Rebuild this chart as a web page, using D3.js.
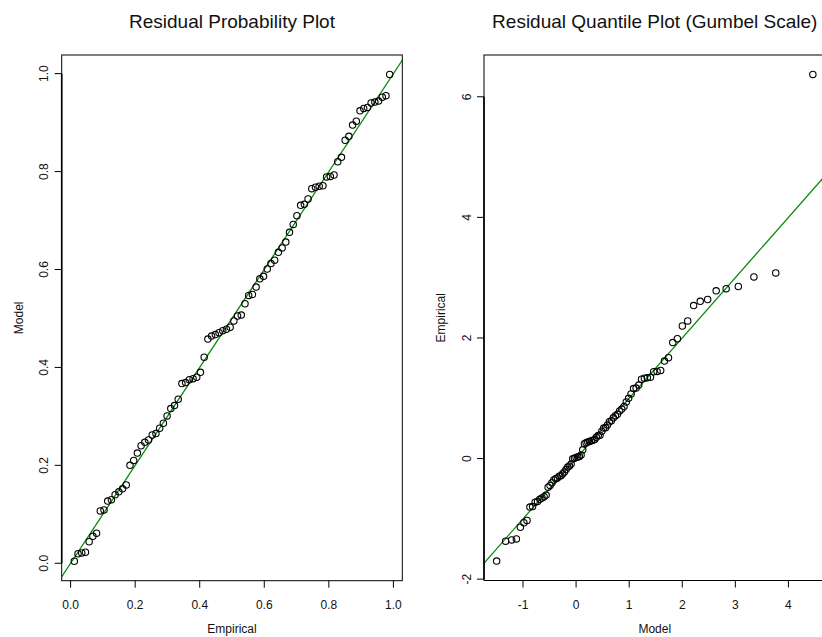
<!DOCTYPE html>
<html>
<head>
<meta charset="utf-8">
<script src="https://d3js.org/d3.v7.min.js"></script>
<style>
  body { margin: 0; background: #fff; }
  svg { display: block; font-family: "Liberation Sans", Arial, sans-serif; }
</style>
</head>
<body>
<svg width="822" height="637"></svg>
<script>
// model probabilities of the sorted residuals (tails from the right one)
var modelProb = [0.0042, 0.0195, 0.0212, 0.0225, 0.044, 0.055, 0.0615, 0.107, 0.109, 0.127,
  0.130, 0.140, 0.146, 0.152, 0.160, 0.200, 0.210, 0.225, 0.240, 0.247,
  0.252, 0.262, 0.265, 0.276, 0.286, 0.301, 0.316, 0.322, 0.335, 0.367,
  0.369, 0.375, 0.377, 0.380, 0.390, 0.421, 0.458, 0.464, 0.467, 0.471,
  0.475, 0.478, 0.482, 0.495, 0.505, 0.507, 0.530, 0.547, 0.549, 0.564,
  0.581, 0.586, 0.601, 0.612, 0.619, 0.635, 0.644, 0.656, 0.676, 0.692,
  0.710, 0.731, 0.733, 0.744, 0.765, 0.768, 0.770, 0.771, 0.789, 0.790,
  0.793, 0.820, 0.829, 0.864, 0.872, 0.895, 0.903, 0.924, 0.929, 0.931,
  0.940, 0.942, 0.944, 0.952, 0.955, 0.99829];

var probTicks = [0, 0.2, 0.4, 0.6, 0.8, 1.0];
var gumbelXTicks = [-1, 0, 1, 2, 3, 4];
var gumbelYTicks = [-2, 0, 2, 4, 6];

var titles = ["Residual Probability Plot", "Residual Quantile Plot (Gumbel Scale)"];

// plotting positions i/(n+1) and gumbel transform
var n = modelProb.length;
var empirical = d3.range(1, n + 1).map(function(i) { return i / (n + 1); });
function gumbelQ(p) { return -Math.log(-Math.log(p)); }

var probData = empirical.map(function(e, i) { return {x: e, y: modelProb[i]}; });
var quantData = empirical.map(function(e, i) { return {x: gumbelQ(e), y: gumbelQ(modelProb[i])}; });

var svg = d3.select("svg");

// R style axis range: data range +4% each side
function rDomain(vals) {
  var ext = d3.extent(vals);
  var pad = (ext[1] - ext[0]) * 0.04;
  return [ext[0] - pad, ext[1] + pad];
}

function drawPanel(cfg) {
  var x = d3.scaleLinear().domain(rDomain(cfg.data.map(function(d) { return d.x; })))
    .range([cfg.left, cfg.right]);
  var y = d3.scaleLinear().domain(rDomain(cfg.data.map(function(d) { return d.y; })))
    .range([cfg.bottom, cfg.top]);

  var g = svg.append("g");

  // clip for the abline
  g.append("clipPath").attr("id", cfg.id)
    .append("rect")
    .attr("x", cfg.left).attr("y", cfg.top)
    .attr("width", cfg.right - cfg.left).attr("height", cfg.bottom - cfg.top);

  var xd = x.domain();
  g.append("line")
    .attr("clip-path", "url(#" + cfg.id + ")")
    .attr("x1", x(xd[0] - 10)).attr("y1", y(xd[0] - 10))
    .attr("x2", x(xd[1] + 10)).attr("y2", y(xd[1] + 10))
    .attr("stroke", "#0a8a0a")
    .attr("stroke-width", 1.3);

  g.append("g").selectAll("circle")
    .data(cfg.data)
    .enter().append("circle")
    .attr("cx", function(d) { return x(d.x); })
    .attr("cy", function(d) { return y(d.y); })
    .attr("r", 3.2)
    .attr("fill", "none")
    .attr("stroke", "#000")
    .attr("stroke-width", 1.1);

  // box
  g.append("rect")
    .attr("x", cfg.left).attr("y", cfg.top)
    .attr("width", cfg.right - cfg.left).attr("height", cfg.bottom - cfg.top)
    .attr("fill", "none").attr("stroke", "#000").attr("stroke-width", 1);
  // axis line on top of the left edge
  g.append("line")
    .attr("x1", cfg.left).attr("x2", cfg.left)
    .attr("y1", y(cfg.yTicks[0])).attr("y2", y(cfg.yTicks[cfg.yTicks.length - 1]))
    .attr("stroke", "#000").attr("stroke-width", 1.6);

  // x axis
  var xa = g.append("g");
  xa.selectAll("line").data(cfg.xTicks).enter().append("line")
    .attr("x1", function(d) { return x(d); }).attr("x2", function(d) { return x(d); })
    .attr("y1", cfg.bottom).attr("y2", cfg.bottom + 7)
    .attr("stroke", "#000");
  xa.selectAll("text").data(cfg.xTicks).enter().append("text")
    .attr("x", function(d) { return x(d); })
    .attr("y", 608.5)
    .attr("text-anchor", "middle")
    .attr("font-size", 12)
    .attr("fill", "#111")
    .text(cfg.xFmt);

  // y axis
  var ya = g.append("g");
  ya.selectAll("line").data(cfg.yTicks).enter().append("line")
    .attr("x1", cfg.left - 7).attr("x2", cfg.left)
    .attr("y1", function(d) { return y(d); }).attr("y2", function(d) { return y(d); })
    .attr("stroke", "#000");
  ya.selectAll("text").data(cfg.yTicks).enter().append("text")
    .attr("transform", function(d) { return "translate(" + (cfg.left - 13.5) + "," + y(d) + ") rotate(-90)"; })
    .attr("text-anchor", "middle")
    .attr("font-size", 12)
    .attr("fill", "#111")
    .text(cfg.yFmt);

  // labels
  g.append("text")
    .attr("x", (cfg.left + cfg.right) / 2).attr("y", 633)
    .attr("text-anchor", "middle").attr("font-size", 12).attr("fill", "#111")
    .text(cfg.xLabel);
  g.append("text")
    .attr("transform", "translate(" + (cfg.left - 39) + "," + ((cfg.top + cfg.bottom) / 2) + ") rotate(-90)")
    .attr("text-anchor", "middle").attr("font-size", 12).attr("fill", "#111")
    .text(cfg.yLabel);

  g.append("text")
    .attr("x", (cfg.left + cfg.right) / 2).attr("y", 28)
    .attr("text-anchor", "middle").attr("font-size", 19).attr("fill", "#111")
    .text(cfg.title);
}

drawPanel({
  id: "clipL", data: probData,
  left: 61.7, right: 402.3, top: 55, bottom: 580.7,
  xTicks: probTicks, yTicks: probTicks,
  xFmt: d3.format(".1f"), yFmt: d3.format(".1f"),
  xLabel: "Empirical", yLabel: "Model", title: titles[0]
});

drawPanel({
  id: "clipR", data: quantData,
  left: 484, right: 825.5, top: 55, bottom: 580.5,
  xTicks: gumbelXTicks, yTicks: gumbelYTicks,
  xFmt: function(d) { return String(d); }, yFmt: function(d) { return String(d); },
  xLabel: "Model", yLabel: "Empirical", title: titles[1]
});
</script>
</body>
</html>
